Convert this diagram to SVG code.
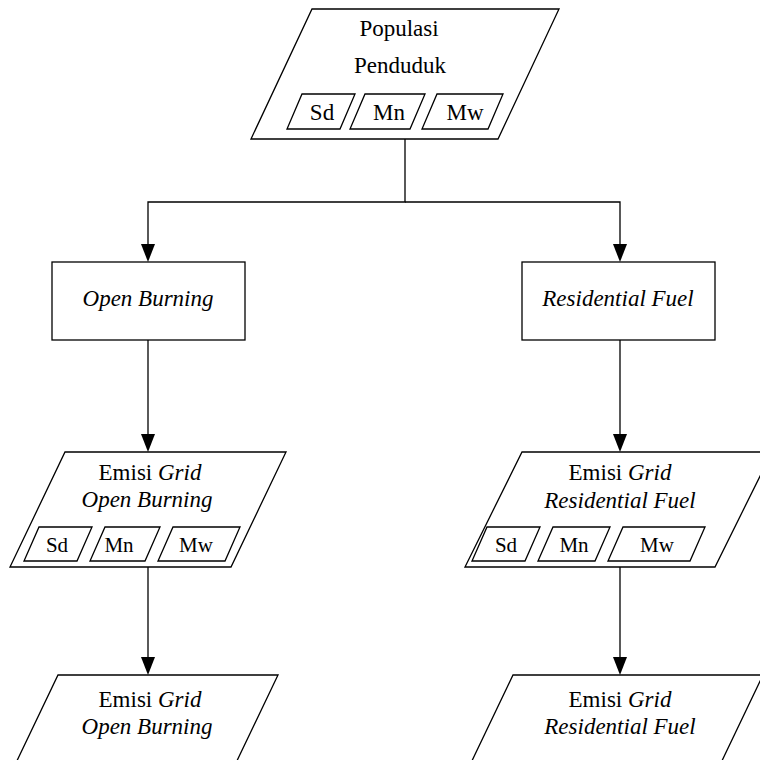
<svg xmlns="http://www.w3.org/2000/svg" width="760" height="760" viewBox="0 0 760 760" font-family="'Liberation Serif', Tinos, 'Times New Roman', 'DejaVu Serif', serif">
<defs>
<style>
.s{fill:#fff;stroke:#000;stroke-width:1.3}
.c{fill:none;stroke:#000;stroke-width:1.3}
text{font-family:"Liberation Serif",Tinos,"Times New Roman","DejaVu Serif",serif;fill:#000;text-anchor:middle}
.t{font-size:23px}
.m{font-size:21px}
.i{font-style:italic}
</style>
</defs>
<g id="connectors">
<path class="c" d="M405,139 V202 H148 V244"/>
<path class="c" d="M405,202 H620 V244"/>
<path d="M141,244 L155,244 L148,262 Z"/>
<path d="M613,244 L627,244 L620,262 Z"/>
<path class="c" d="M148,340 V434"/>
<path d="M141,434 L155,434 L148,452 Z"/>
<path class="c" d="M620,340 V434"/>
<path d="M613,434 L627,434 L620,452 Z"/>
<path class="c" d="M148,567 V657"/>
<path d="M141,657 L155,657 L148,675 Z"/>
<path class="c" d="M620,567 V657"/>
<path d="M613,657 L627,657 L620,675 Z"/>
</g>
<g id="populasi">
<polygon class="s" points="312,9 559,9 498,139 251,139"/>
<text class="t" x="399" y="36">Populasi</text>
<text class="t" x="400" y="73">Penduduk</text>
<polygon class="s" points="302,94 355,94 340,129 287,129"/>
<text class="t" x="322" y="120">Sd</text>
<polygon class="s" points="365,94 425,94 410,129 350,129"/>
<text class="t" x="389" y="120">Mn</text>
<polygon class="s" points="437,94 503,94 488,129 422,129"/>
<text class="t" x="465" y="120">Mw</text>
</g>
<g id="open-burning">
<rect class="s" x="52" y="262" width="193" height="78"/>
<text class="t i" x="148" y="306">Open Burning</text>
</g>
<g id="residential-fuel">
<rect class="s" x="522" y="262" width="193" height="78"/>
<text class="t i" x="618" y="306">Residential Fuel</text>
</g>
<g id="emisi-ob">
<polygon class="s" points="65,452 286,452 231,567 10,567"/>
<text class="t" x="150" y="480">Emisi <tspan class="i">Grid</tspan></text>
<text class="t i" x="147" y="507">Open Burning</text>
<polygon class="s" points="39,527 92,527 77,561 24,561"/>
<text class="m" x="57" y="552">Sd</text>
<polygon class="s" points="105,527 160,527 145,561 90,561"/>
<text class="m" x="119" y="552">Mn</text>
<polygon class="s" points="173,527 240,527 225,561 158,561"/>
<text class="m" x="196" y="552">Mw</text>
</g>
<g id="emisi-rf">
<polygon class="s" points="522,452 772,452 715,567 465,567"/>
<text class="t" x="620" y="480">Emisi <tspan class="i">Grid</tspan></text>
<text class="t i" x="620" y="508">Residential Fuel</text>
<polygon class="s" points="487,527 540,527 525,561 472,561"/>
<text class="m" x="506" y="552">Sd</text>
<polygon class="s" points="553,527 610,527 595,561 538,561"/>
<text class="m" x="574" y="552">Mn</text>
<polygon class="s" points="623,527 705,527 690,561 608,561"/>
<text class="m" x="657" y="552">Mw</text>
</g>
<g id="emisi-ob-out">
<polygon class="s" points="58,675 278,675 223,790 3,790"/>
<text class="t" x="150" y="707">Emisi <tspan class="i">Grid</tspan></text>
<text class="t i" x="147" y="734">Open Burning</text>
</g>
<g id="emisi-rf-out">
<polygon class="s" points="513,675 763,675 708,790 458,790"/>
<text class="t" x="620" y="707">Emisi <tspan class="i">Grid</tspan></text>
<text class="t i" x="620" y="734">Residential Fuel</text>
</g>
</svg>
